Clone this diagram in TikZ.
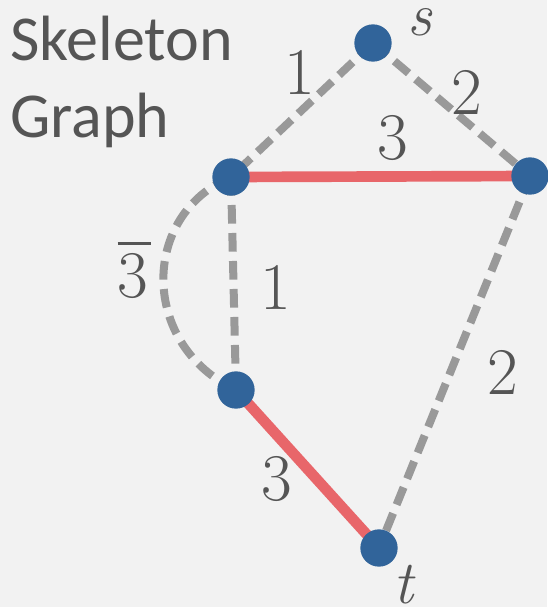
\documentclass[tikz,border=0pt]{standalone}
\usepackage{fontspec}
\newfontfamily\titlefont{Carlito}
\definecolor{bgc}{HTML}{F2F2F2}
\definecolor{nodec}{HTML}{31649A}
\definecolor{redc}{HTML}{E8666A}
\definecolor{grayc}{HTML}{999999}
\definecolor{textc}{HTML}{555555}
\begin{document}
\begin{tikzpicture}[x=0.75pt,y=-0.75pt,
  vert/.style={circle,fill=nodec,minimum size=28pt,inner sep=0pt},
  gedge/.style={draw=grayc,line width=6pt,dash pattern=on 14pt off 7pt},
  redge/.style={draw=redc,line width=8pt},
  lab/.style={text=textc,font=\fontsize{50}{56}\selectfont,inner sep=0pt},
  vlab/.style={text=textc,font=\fontsize{46}{50}\selectfont\itshape,inner sep=0pt}]
\fill[bgc] (0,0) rectangle (547,607);
\useasboundingbox (0,0) rectangle (547,607);
% vertex positions
\coordinate (ps) at (373,43);
\coordinate (pa) at (231,177);
\coordinate (pb) at (530,176);
\coordinate (pc) at (236,390);
\coordinate (pt) at (379,548);
% edges
\draw[redge] (pa) -- (pb);
\draw[redge] (pc) -- (pt);
\draw[gedge] (ps) -- (pa);
\draw[gedge] (ps) -- (pb);
\draw[gedge] (pa) -- (pc);
\draw[gedge] (pa) .. controls (140,215) and (140,345) .. (pc);
\draw[gedge] (pb) -- (pt);
% vertices
\node[vert] (s) at (ps) {};
\node[vert] (a) at (pa) {};
\node[vert] (b) at (pb) {};
\node[vert] (c) at (pc) {};
\node[vert] (t) at (pt) {};
% vertex labels
\node[vlab] (ls) at (420,22) {s};
\node[vlab] (lt) at (403,585) {t};
% edge labels
\node[lab] (l1) at (300,72) {1};
\node[lab] (l2) at (467,92) {2};
\node[lab] (l3) at (393,138) {3};
\node[lab,anchor=base] (l4) at (133,297) {\makebox[0pt][l]{\raisebox{0.78em}{\rule{0.5em}{0.045em}}}3};
\node[lab] (l5) at (276,287) {1};
\node[lab] (l6) at (503,372) {2};
\node[lab] (l7) at (277,479) {3};
% title
\node[anchor=base west,text=textc,font=\titlefont\fontsize{48}{58}\selectfont,inner sep=0pt] (t1) at (10,60) {Skeleton};
\node[anchor=base west,text=textc,font=\titlefont\fontsize{48}{58}\selectfont,inner sep=0pt] (t2) at (10,137) {Graph};
\end{tikzpicture}
\end{document}
